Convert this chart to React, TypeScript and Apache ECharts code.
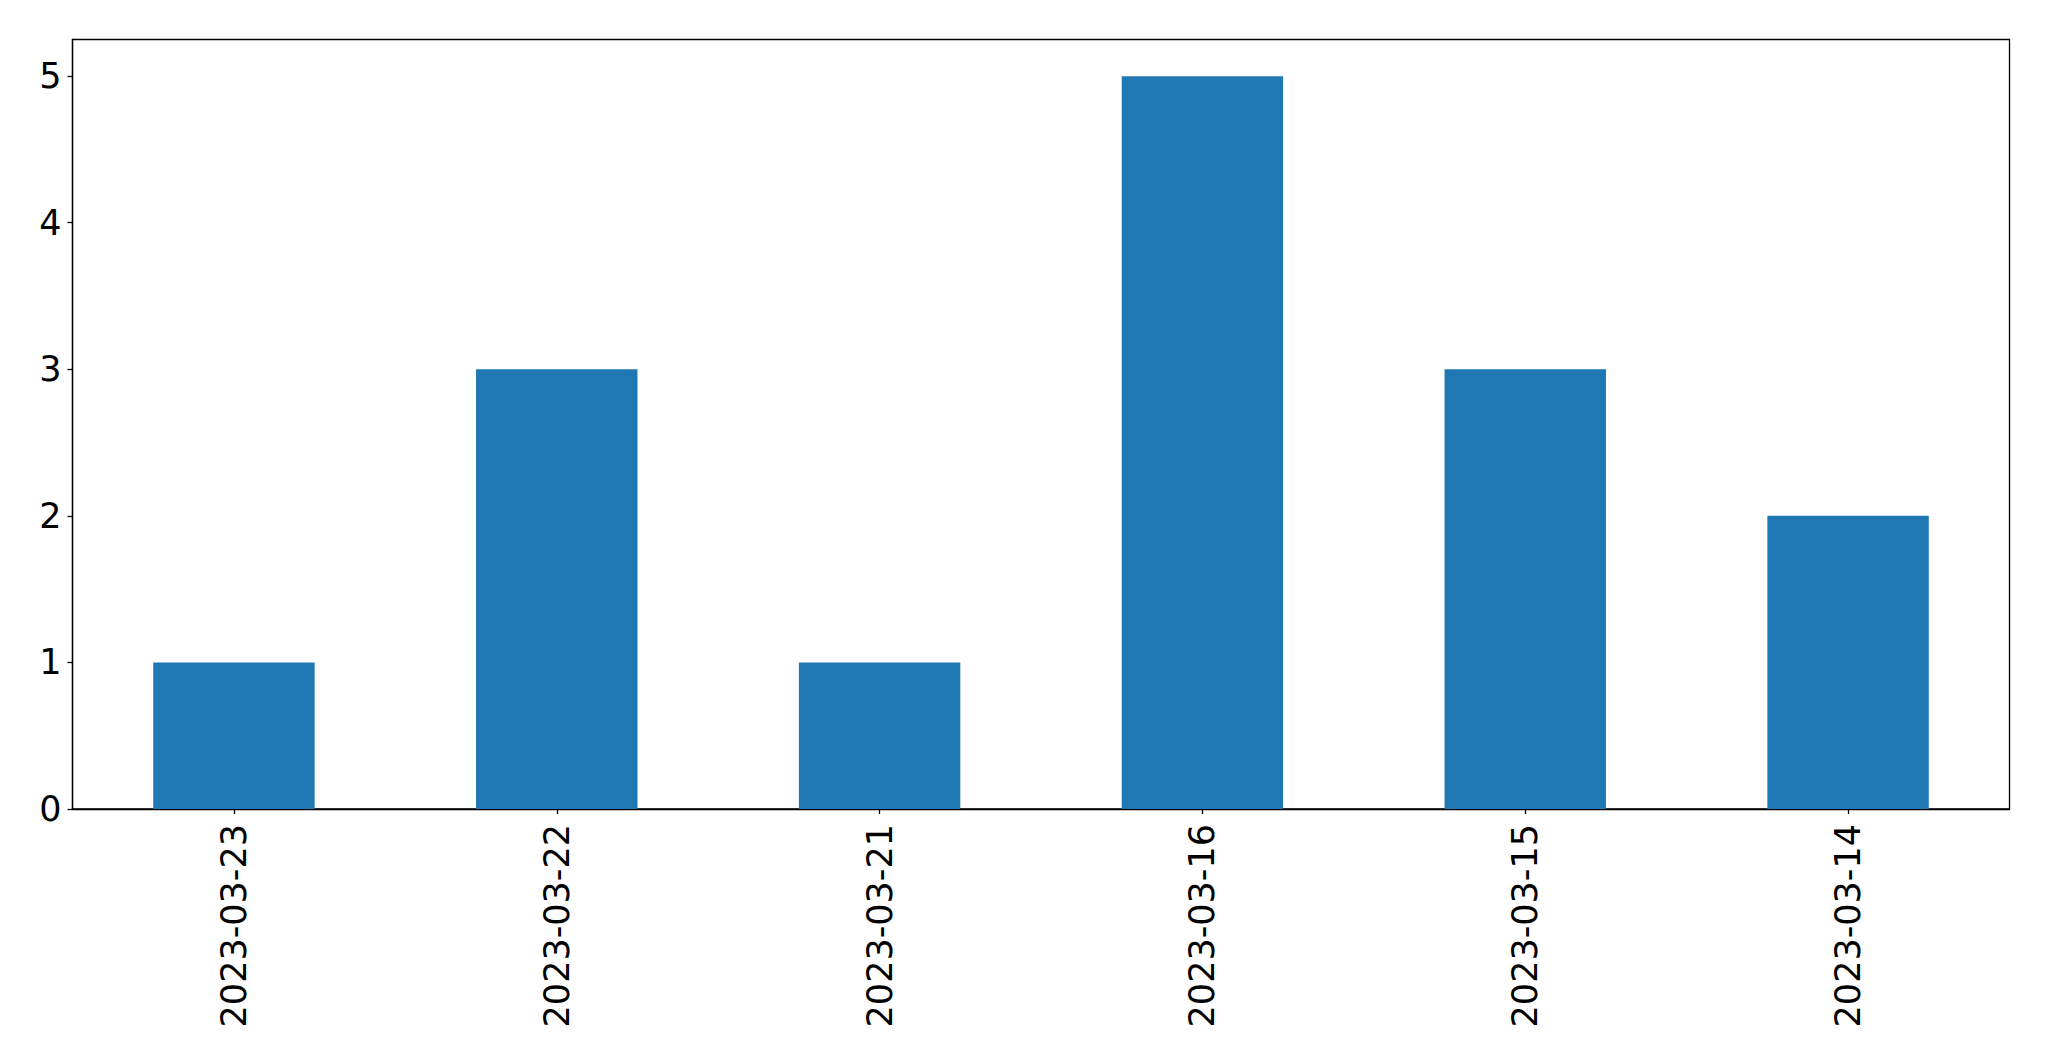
import React, { useEffect, useRef } from "react";
import * as echarts from "echarts";

const categories = ["2023-03-23", "2023-03-22", "2023-03-21", "2023-03-16", "2023-03-15", "2023-03-14"];
const values = [1, 3, 1, 5, 3, 2];
const yTicks = [0, 1, 2, 3, 4, 5];

export default function App() {
  const ref = useRef<HTMLDivElement>(null);
  useEffect(() => {
    if (!ref.current) return;
    const chart = echarts.init(ref.current, undefined, { renderer: "svg" });
    const font = "DejaVu Sans";
    chart.setOption({
      animation: false,
      backgroundColor: "#ffffff",
      grid: {
        left: 72.5,
        top: 39.5,
        right: 39.5,
        bottom: 252,
        show: true,
        borderColor: "#000000",
        borderWidth: 1.3,
        backgroundColor: "transparent",
        containLabel: false,
      },
      xAxis: {
        type: "category",
        data: categories,
        boundaryGap: true,
        axisLine: { show: true, lineStyle: { color: "#000000", width: 1.3 } },
        axisTick: { show: true, alignWithLabel: true, length: 5, lineStyle: { color: "#000000", width: 1.3 } },
        axisLabel: {
          rotate: 90,
          margin: 15,
          color: "#000000",
          fontFamily: font,
          fontSize: 35,
          interval: 0,
        },
        splitLine: { show: false },
      },
      yAxis: {
        type: "value",
        min: 0,
        max: 5.25,
        interval: 1,
        axisLine: { show: true, lineStyle: { color: "#000000", width: 1.3 } },
        axisTick: { show: true, length: 5, customValues: yTicks, lineStyle: { color: "#000000", width: 1.3 } },
        axisLabel: {
          customValues: yTicks,
          margin: 11,
          color: "#000000",
          fontFamily: font,
          fontSize: 35,
        },
        splitLine: { show: false },
      },
      series: [
        {
          type: "bar",
          data: values,
          barWidth: "50%",
          itemStyle: { color: "#1f77b4" },
        },
      ],
    });
    return () => chart.dispose();
  }, []);
  return (
    <div
      ref={ref}
      style={{ position: "fixed", left: 0, top: 0, width: 2049, height: 1061, background: "#fff" }}
    />
  );
}
